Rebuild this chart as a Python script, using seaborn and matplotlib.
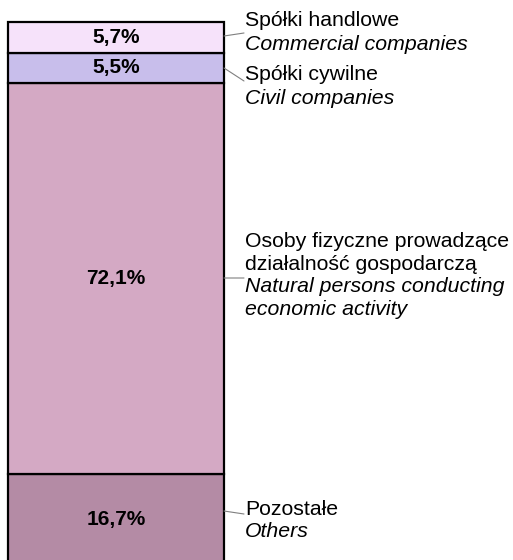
import matplotlib
matplotlib.use("Agg")
import matplotlib.pyplot as plt
import seaborn as sns
import pandas as pd

sns.set_theme(style="white")
plt.rcParams['font.family'] = ['Liberation Sans', 'DejaVu Sans']

# Data (bottom to top)
categories_pl = ["Pozostałe", "Osoby fizyczne prowadzące\ndziałalność gospodarczą", "Spółki cywilne", "Spółki handlowe"]
categories_en = ["Others", "Natural persons conducting\neconomic activity", "Civil companies", "Commercial companies"]
values = [16.7, 72.1, 5.5, 5.7]
value_labels = ["16,7%", "72,1%", "5,5%", "5,7%"]
colors = ["#B48BA5", "#D4A9C4", "#C8BEEB", "#F6E2FA"]

W, H = 513, 560
fig = plt.figure(figsize=(W / 100, H / 100), dpi=100)
ax = fig.add_axes([8 / W, -4.6 / H, 216 / W, 542.6 / H])

bottom = 0.0
centers = []
for cat, val, col in zip(categories_en, values, colors):
    df = pd.DataFrame({"bar": ["total"], "value": [val]})
    sns.barplot(data=df, x="bar", y="value", color=col, width=1.0,
                bottom=bottom, edgecolor="black", linewidth=1.6, ax=ax,
                saturation=1)
    centers.append(bottom + val / 2)
    bottom += val

for p in ax.patches:
    p.set_clip_on(False)

ax.set_xlim(-0.5, 0.5)
ax.set_ylim(0, 100)
ax.axis("off")

for c, lab in zip(centers, value_labels):
    ax.text(0, c, lab, ha="center", va="center", fontsize=15,
            fontweight="bold", color="black")

def fx(x):
    return x / W

def fy(y):
    return 1 - y / H

# first-line baselines of each label block (pixels), line pitch, leader lines
text_x = 245
first_baselines = [515, 247, 80, 26]
line_pitch = [22, 22.7, 24, 24]
line_ends = [514, 278, 81, 33]
line_starts = [511, 278, 68, 36]
FS = 15.3

for pl, en, yb, pitch, ye, ys in zip(categories_pl, categories_en, first_baselines,
                                     line_pitch, line_ends, line_starts):
    lines = [(t, "normal") for t in pl.split("\n")] + [(t, "italic") for t in en.split("\n")]
    for i, (t, st) in enumerate(lines):
        fig.text(fx(text_x), fy(yb + i * pitch), t, ha="left", va="baseline",
                 fontsize=FS, style=st, color="black")
    ax.annotate("", xy=(0.5, ax.transData.inverted().transform(
                    fig.transFigure.transform((0, fy(ys))))[1]),
                xycoords="data",
                xytext=(fx(text_x - 1), fy(ye)), textcoords="figure fraction",
                arrowprops=dict(arrowstyle="-", color="#808080", lw=0.8,
                                shrinkA=0, shrinkB=0),
                annotation_clip=False)

fig.savefig("out.png", dpi=100)
